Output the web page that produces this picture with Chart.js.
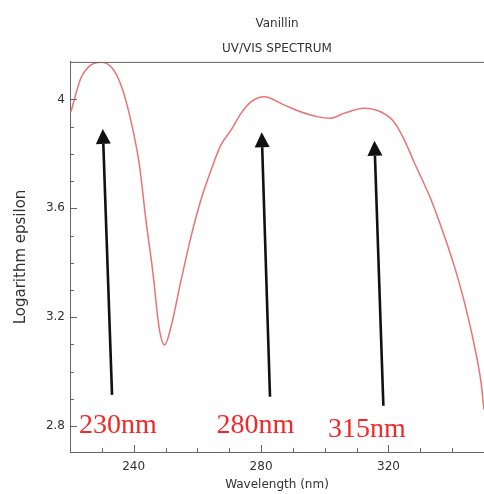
<!DOCTYPE html>
<html>
<head>
<meta charset="utf-8">
<script src="https://cdn.jsdelivr.net/npm/chart.js@4.4.0/dist/chart.umd.min.js"></script>
<style>
  html, body { margin: 0; padding: 0; background: #fff; }
  #wrap { width: 484px; height: 494px; }
</style>
</head>
<body>
<div id="wrap"><canvas id="myChart"></canvas></div>
<script>
// spectrum
const wavelengths = [220.3, 223.4, 226.6, 229.7, 232.9, 236.0, 239.2, 241.8, 243.9, 246.0, 248.0, 249.7,
  251.7, 254.9, 258.0, 261.1, 264.3, 267.4, 270.6, 273.7, 276.9, 281.0, 287.2, 292.4, 297.6, 301.8,
  306.0, 312.3, 317.5, 321.7, 325.0, 328.2, 333.4, 337.6, 340.7, 343.9, 347.0, 349.1, 350.0];
const logEpsilon = [3.955, 4.078, 4.127, 4.137, 4.120, 4.053, 3.918, 3.759, 3.551, 3.367, 3.160, 3.098,
  3.165, 3.337, 3.496, 3.631, 3.741, 3.833, 3.888, 3.949, 3.992, 4.010, 3.980, 3.955, 3.937, 3.931,
  3.949, 3.968, 3.955, 3.918, 3.851, 3.766, 3.631, 3.497, 3.387, 3.253, 3.094, 2.958, 2.860];

// peak arrows, [wavelength, log epsilon]
const peakLabels = ['230nm', '280nm', '315nm'];
const arrowTails = [[233.2, 2.915], [282.8, 2.908], [318.4, 2.875]];
const arrowTips = [[230.3, 3.892], [280.2, 3.880], [315.6, 3.848]];
const labelPos = [[222.8, 2.775], [266.0, 2.775], [301.0, 2.760]];

const xTickLabels = [240, 280, 320];
const yTickLabels = [2.8, 3.2, 3.6, 4.0];

const isLabelled = (v, list) => list.some(t => Math.abs(t - v) < 1e-6);

const peaksPlugin = {
  id: 'peaks',
  afterDatasetsDraw(chart) {
    const ctx = chart.ctx;
    const xs = chart.scales.x, ys = chart.scales.y;
    const area = chart.chartArea;
    ctx.save();
    ctx.strokeStyle = '#666';
    ctx.lineWidth = 1;
    // top frame line
    ctx.beginPath();
    ctx.moveTo(area.left, area.top + 0.5);
    ctx.lineTo(area.right, area.top + 0.5);
    ctx.stroke();
    // inward ticks, longer where labelled
    ctx.beginPath();
    xs.ticks.forEach(t => {
      const px = Math.round(xs.getPixelForValue(t.value)) + 0.5;
      const len = isLabelled(t.value, xTickLabels) ? 7 : 4;
      ctx.moveTo(px, area.bottom);
      ctx.lineTo(px, area.bottom - len);
    });
    ys.ticks.forEach(t => {
      const py = Math.round(ys.getPixelForValue(t.value)) + 0.5;
      const len = isLabelled(t.value, yTickLabels) ? 7 : 4;
      ctx.moveTo(area.left, py);
      ctx.lineTo(area.left + len, py);
    });
    ctx.stroke();

    for (let i = 0; i < peakLabels.length; i++) {
      const x0 = xs.getPixelForValue(arrowTails[i][0]);
      const y0 = ys.getPixelForValue(arrowTails[i][1]);
      const x1 = xs.getPixelForValue(arrowTips[i][0]);
      const y1 = ys.getPixelForValue(arrowTips[i][1]);
      const ang = Math.atan2(y1 - y0, x1 - x0);
      const headLen = 15, headW = 7.5;
      const bx = x1 - headLen * Math.cos(ang), by = y1 - headLen * Math.sin(ang);
      ctx.strokeStyle = '#111';
      ctx.fillStyle = '#111';
      ctx.lineWidth = 2.6;
      ctx.beginPath();
      ctx.moveTo(x0, y0);
      ctx.lineTo(bx, by);
      ctx.stroke();
      ctx.beginPath();
      ctx.moveTo(x1, y1);
      ctx.lineTo(bx + headW * Math.sin(ang), by - headW * Math.cos(ang));
      ctx.lineTo(bx - headW * Math.sin(ang), by + headW * Math.cos(ang));
      ctx.closePath();
      ctx.fill();

      ctx.fillStyle = '#f42828';
      ctx.font = '28px "Liberation Serif"';
      ctx.textBaseline = 'alphabetic';
      ctx.textAlign = 'left';
      ctx.fillText(peakLabels[i], xs.getPixelForValue(labelPos[i][0]), ys.getPixelForValue(labelPos[i][1]));
    }
    ctx.restore();
  }
};

window.onload = function () {
  const ctx = document.getElementById('myChart');
  new Chart(ctx, {
    type: 'line',
    data: {
      datasets: [{
        data: wavelengths.map((w, i) => ({ x: w, y: logEpsilon[i] })),
        borderColor: '#e87474',
        borderWidth: 1.5,
        pointRadius: 0,
        cubicInterpolationMode: 'monotone',
        fill: false
      }]
    },
    plugins: [peaksPlugin],
    options: {
      responsive: true,
      maintainAspectRatio: false,
      animation: false,
      layout: { padding: { top: 11, right: 0, left: 0, bottom: 0 } },
      plugins: {
        legend: { display: false },
        tooltip: { enabled: false },
        title: {
          display: true,
          fullSize: false,
          text: ['Vanillin', 'UV/VIS SPECTRUM'],
          color: '#333',
          font: { family: 'DejaVu Sans', size: 12, weight: 'normal', lineHeight: 2.08 },
          padding: { top: 0, bottom: 1 }
        }
      },
      scales: {
        x: {
          type: 'linear',
          min: 220,
          max: 350,
          afterBuildTicks: s => { s.ticks = s.ticks.filter(t => Math.abs(t.value / 10 - Math.round(t.value / 10)) < 1e-6); },
          afterFit: s => { s.height = 42; s.paddingRight = 0; },
          ticks: {
            stepSize: 10,
            autoSkip: false,
            maxRotation: 0,
            color: '#333',
            font: { family: 'DejaVu Sans', size: 12 },
            padding: 8,
            callback: v => isLabelled(v, xTickLabels) ? String(v) : ''
          },
          grid: { display: false, drawTicks: false },
          border: { color: '#666', width: 1 },
          title: {
            display: true,
            text: 'Wavelength (nm)',
            color: '#333',
            font: { family: 'DejaVu Sans', size: 12 },
            padding: { top: 0, bottom: 2 }
          }
        },
        y: {
          type: 'linear',
          min: 2.705,
          max: 4.138,
          afterBuildTicks: s => { s.ticks = s.ticks.filter(t => Math.abs(t.value * 10 - Math.round(t.value * 10)) < 1e-6); },
          afterFit: s => { s.width = 70; },
          ticks: {
            stepSize: 0.1,
            autoSkip: false,
            color: '#333',
            font: { family: 'DejaVu Sans', size: 12 },
            padding: 5,
            callback: v => isLabelled(v, yTickLabels) ? String(Math.round(v * 10) / 10) : ''
          },
          grid: { display: false, drawTicks: false },
          border: { color: '#666', width: 1 },
          title: {
            display: true,
            text: 'Logarithm epsilon',
            color: '#333',
            font: { family: 'DejaVu Sans', size: 15 },
            padding: { top: 12, bottom: 0 }
          }
        }
      }
    }
  });
};
</script>
</body>
</html>
